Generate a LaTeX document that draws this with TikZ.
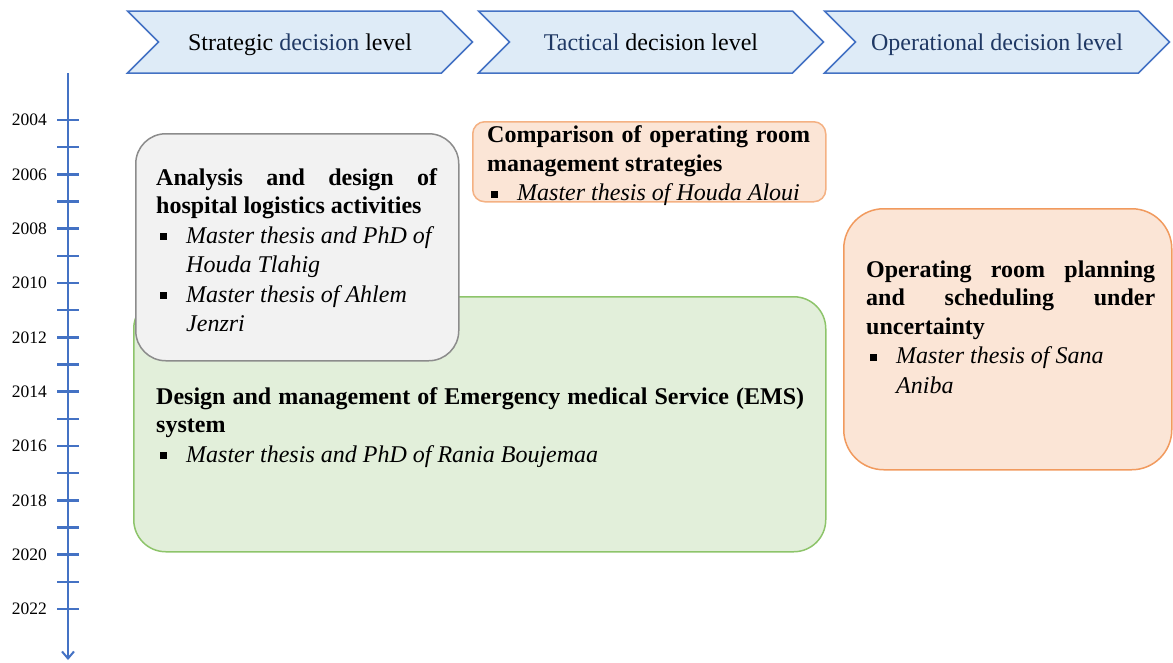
\documentclass[tikz,border=0pt]{standalone}
\usepackage{fontspec}
\setmainfont{Liberation Serif}
\usetikzlibrary{positioning,shapes.symbols,arrows.meta}

\definecolor{axisblue}{HTML}{4472C4}
\definecolor{levelfill}{HTML}{DEEBF7}
\definecolor{levelnavy}{HTML}{1F3864}
\definecolor{grayfill}{HTML}{F2F2F2}
\definecolor{grayline}{HTML}{8C8C8C}
\definecolor{greenfill}{HTML}{E2EFDA}
\definecolor{greenline}{HTML}{8DC46A}
\definecolor{orangefill}{HTML}{FBE5D6}
\definecolor{orangeline}{HTML}{F4B183}
\definecolor{orangedark}{HTML}{F19A5E}

% lines of the boxes
\newcommand{\titleline}[1]{{\fontsize{24}{28.5}\selectfont\bfseries\noindent\makebox[\linewidth][s]{#1}\par}}
\newcommand{\titlelast}[1]{{\fontsize{24}{28.5}\selectfont\bfseries\noindent\mbox{#1}\par}}
\newcommand{\thesisitem}[1]{{\fontsize{24}{29.5}\selectfont\itshape\noindent\makebox[30pt][l]{\hspace{4pt}\rule[3pt]{7pt}{7pt}}\mbox{#1}\par}}
\newcommand{\thesisnext}[1]{{\fontsize{24}{29.5}\selectfont\itshape\noindent\hspace*{30pt}\mbox{#1}\par}}

\begin{document}
\begin{tikzpicture}[x=1pt, y=-1pt,
    level/.style = {signal, signal from=west, signal to=east, signal pointer angle=90,
      draw=axisblue, line width=1.5pt, fill=levelfill, minimum width=345pt,
      minimum height=62pt, inner sep=0pt, text height=17pt, text depth=1pt,
      font=\fontsize{24}{28}\selectfont},
    yearaxis/.style = {draw=axisblue, line width=2pt, -{Straight Barb[length=7pt, width=12pt]}},
    yeartick/.style = {draw=axisblue, line width=2.5pt},
    yearlabel/.style = {anchor=east, inner sep=0pt, font=\fontsize{17.5}{20}\selectfont},
    box/.style = {anchor=north west, line width=1.5pt, inner sep=0pt},
    graybox/.style = {box, draw=grayline, fill=grayfill, rounded corners=30pt},
    greenbox/.style = {box, draw=greenline, fill=greenfill, rounded corners=32pt},
    orangebox/.style = {box, draw=orangeline, fill=orangefill, rounded corners=12pt},
    orangebigbox/.style = {box, draw=orangedark, fill=orangefill, rounded corners=40pt},
    boxtext/.style = {anchor=north west, inner sep=0pt, align=justify}]
  \useasboundingbox (0,0) rectangle (1173,662);

  % decision levels
  \node[level] (strategic) at (300,42) {Strategic \textcolor{levelnavy}{decision} level};
  \node[level] (tactical) at ([xshift=351pt]strategic) {\textcolor{levelnavy}{Tactical} decision level};
  \node[level] (operational) at ([xshift=346pt]tactical) {\textcolor{levelnavy}{Operational decision level}};

  % time axis
  \coordinate (axtop) at (68,73);
  \coordinate (axbot) at (68,660);
  \draw[yearaxis] (axtop) -- (axbot);
  \foreach \i in {0,...,18} {
    \coordinate (t\i) at (68,120+27.17*\i);
    \draw[yeartick] ([xshift=-11pt]t\i) -- ([xshift=11pt]t\i);
  }
  \foreach \i in {0,2,...,18} {
    \pgfmathtruncatemacro{\year}{2004+\i}
    \node[yearlabel, left=21pt of t\i] (y\year) {\year};
  }

  % research boxes
  \node[greenbox, minimum width=692pt, minimum height=255pt] (emsbox) at (133,296) {};
  \node[graybox, minimum width=323pt, minimum height=227pt] (logbox) at (135,133) {};
  \node[orangebox, minimum width=353pt, minimum height=80pt] (orbox) at (472,121) {};
  \node[orangebigbox, minimum width=328pt, minimum height=261pt] (planbox) at (843,208) {};

  \node[boxtext, text width=281pt] (logtext) at (156,168) {%
    \titleline{Analysis and design of}
    \titlelast{hospital logistics activities}
    \thesisitem{Master thesis and PhD of}
    \thesisnext{Houda Tlahig}
    \thesisitem{Master thesis of Ahlem}
    \thesisnext{Jenzri}};
  \node[boxtext, text width=648pt] (emstext) at (156,387) {%
    \titleline{Design and management of Emergency medical Service (EMS)}
    \titlelast{system}
    \thesisitem{Master thesis and PhD of Rania Boujemaa}};
  \node[boxtext, text width=323pt] (ortext) at (487,125.5) {%
    \titleline{Comparison of operating room}
    \titlelast{management strategies}
    \thesisitem{Master thesis of Houda Aloui}};
  \node[boxtext, text width=289pt] (plantext) at (866,260.5) {%
    \titleline{Operating room planning}
    \titleline{and scheduling under}
    \titlelast{uncertainty}
    \thesisitem{Master thesis of Sana}
    \thesisnext{Aniba}};
\end{tikzpicture}
\end{document}
